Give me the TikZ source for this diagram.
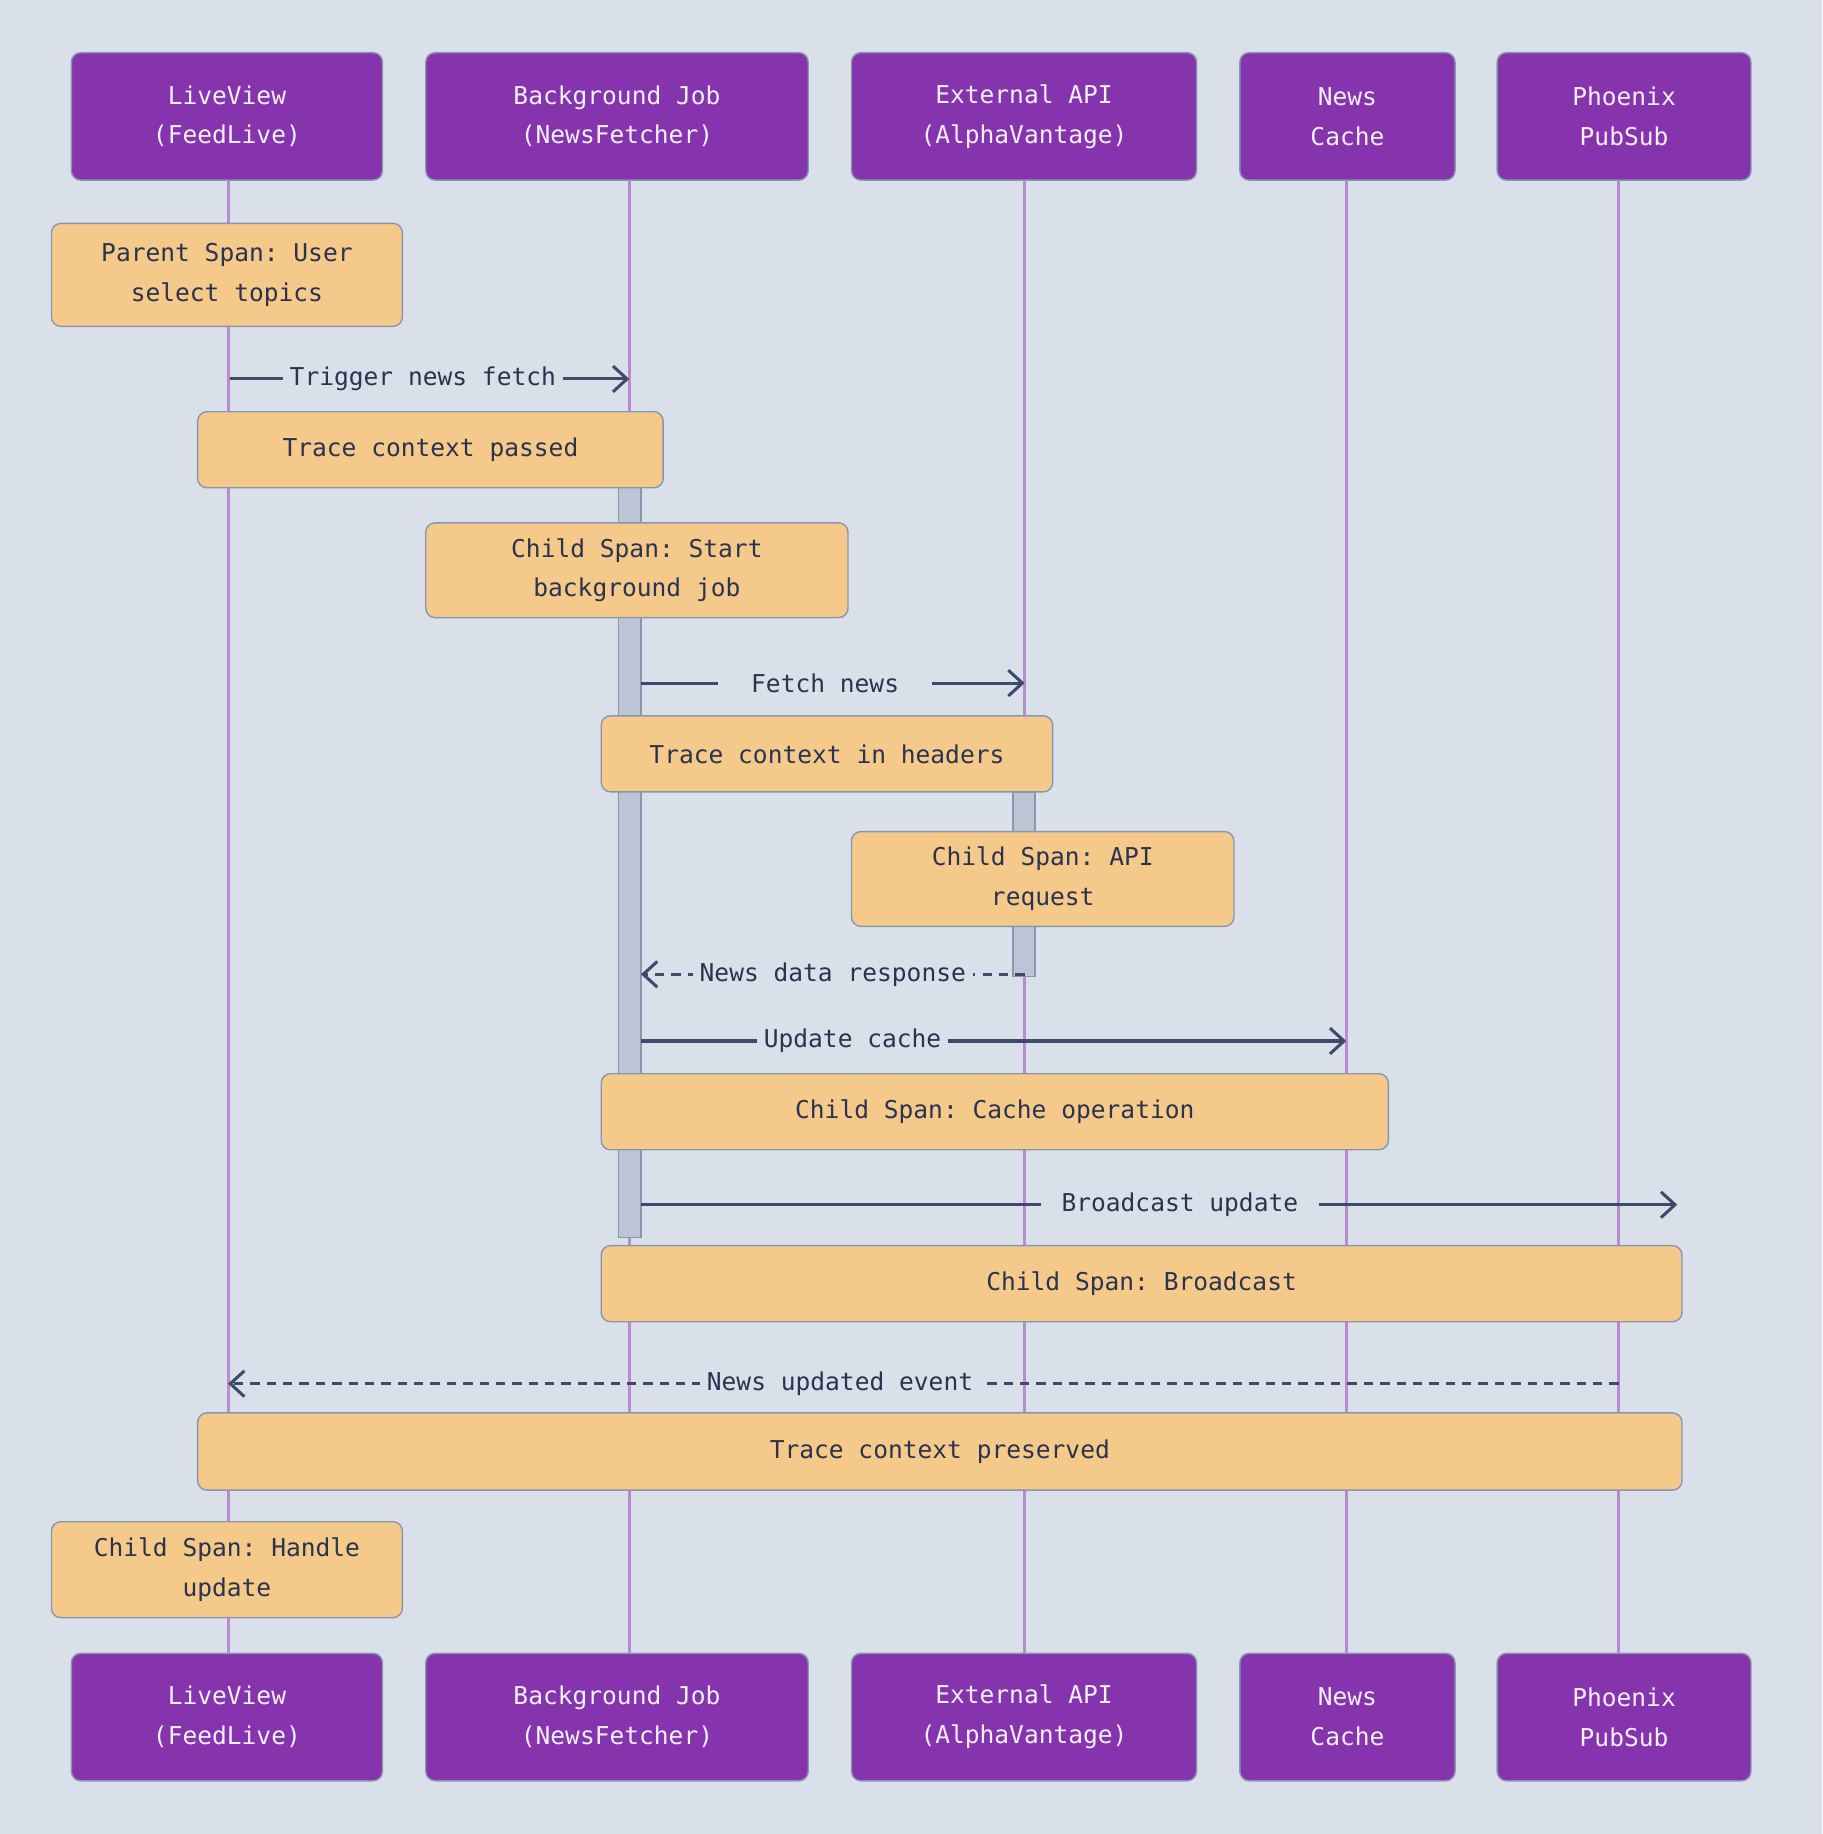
\documentclass[tikz,border=0pt]{standalone}
\usepackage{fontspec}
\setmonofont{DejaVu Sans Mono}
\usetikzlibrary{arrows.meta}
\definecolor{bg}{HTML}{DAE0EA}
\definecolor{actorfill}{HTML}{8534AD}
\definecolor{boxline}{HTML}{8A96B0}
\definecolor{life}{HTML}{B98BD0}
\definecolor{notefill}{HTML}{F5C98A}
\definecolor{ink}{HTML}{3D4A6B}
\definecolor{txt}{HTML}{2A3350}
\definecolor{actbar}{HTML}{BCC5D6}
\begin{document}
\begin{tikzpicture}[x=0.5pt,y=-0.5pt,
  font=\ttfamily\fontsize{10.5pt}{17pt}\selectfont,
  actor/.style={draw=boxline,fill=actorfill,rounded corners=4pt,text=white!92!actorfill,align=center,minimum height=54.5pt,line width=0.6pt,inner sep=0pt},
  note/.style={draw=boxline,fill=notefill,rounded corners=4pt,text=txt,align=center,line width=0.6pt,inner sep=0pt},
  lifeline/.style={draw=life,line width=1.3pt},
  msg/.style={draw=ink,line width=1.3pt,-{Straight Barb[length=6pt,width=11pt,line width=1.3pt]}},
  reply/.style={msg,dash pattern=on 4pt off 3pt},
  lbl/.style={fill=bg,text=txt,inner sep=3pt},
  bar/.style={draw=boxline,fill=actbar,line width=0.6pt}]
\fill[bg] (0,0) rectangle (1558,1568);
% lifeline coordinates
\foreach \n/\x in {lv/195,bg/538,api/876,nc/1151,ps/1384}{
  \coordinate (\n-t) at (\x,154);
  \coordinate (\n-b) at (\x,1414);
  \draw[lifeline] (\n-t) -- (\n-b);
}
% activation bars
\node[bar,minimum width=9.5pt,minimum height=320.5pt,inner sep=0pt] (actbg) at (538.5,737.5) {};
\node[bar,minimum width=9.5pt,minimum height=79pt,inner sep=0pt] (actapi) at (875.5,756) {};
% actors
\foreach \n/\x/\w/\t in {LV/194/133/{LiveView\\(FeedLive)},BG/527.5/163.5/{Background Job\\(NewsFetcher)},API/875.5/147.5/{External API\\(AlphaVantage)},NC/1152/92/{News\\Cache},PS/1388.5/108.5/{Phoenix\\PubSub}}{
  \node[actor,minimum width=\w pt] (\n top) at (\x,99.5) {\t};
  \node[actor,minimum width=\w pt] (\n bot) at (\x,1468) {\t};
}
% notes
\node[note,minimum width=150pt,minimum height=44pt] (n1) at (194,235) {Parent Span: User\\select topics};
\node[note,minimum width=199pt,minimum height=32.5pt] (n2) at (368,384.5) {Trace context passed};
\node[note,minimum width=180.5pt,minimum height=40.5pt] (n3) at (544.5,487.5) {Child Span: Start\\background job};
\node[note,minimum width=193pt,minimum height=32.5pt] (n4) at (707,644.5) {Trace context in headers};
\node[note,minimum width=163.5pt,minimum height=40.5pt] (n5) at (891.5,751.5) {Child Span: API\\request};
\node[note,minimum width=336.5pt,minimum height=32.5pt] (n6) at (850.5,950.5) {Child Span: Cache operation};
\node[note,minimum width=462pt,minimum height=32.5pt] (n7) at (976,1097.5) {Child Span: Broadcast};
\node[note,minimum width=634.5pt,minimum height=33pt] (n8) at (803.5,1241) {Trace context preserved};
\node[note,minimum width=150pt,minimum height=41pt] (n9) at (194,1342) {Child Span: Handle\\update};
% message endpoints
\coordinate (m1a) at (197,324); \coordinate (m1b) at (538,324);
\coordinate (m2a) at (548,584); \coordinate (m2b) at (876,584);
\coordinate (m3a) at (876,833); \coordinate (m3b) at (548,833);
\coordinate (m4a) at (548,890); \coordinate (m4b) at (1151,890);
\coordinate (m5a) at (548,1030); \coordinate (m5b) at (1434,1030);
\coordinate (m6a) at (1384,1183); \coordinate (m6b) at (195,1183);
% messages
\draw[msg] (m1a) -- (m1b) node[lbl,midway,xshift=-3pt] {Trigger news fetch};
\draw[msg] (m2a) -- (m2b) node[lbl,pos=0.48,inner xsep=14pt] {Fetch news};
\draw[reply] (m3a) -- (m3b) node[lbl,pos=0.5] {News data response};
\draw[msg] (m4a) -- (m4b) node[lbl,pos=0.3] {Update cache};
\draw[msg] (m5a) -- (m5b) node[lbl,pos=0.52,inner xsep=9pt] {Broadcast update};
\draw[reply] (m6a) -- (m6b) node[lbl,pos=0.56] {News updated event};
\end{tikzpicture}
\end{document}
